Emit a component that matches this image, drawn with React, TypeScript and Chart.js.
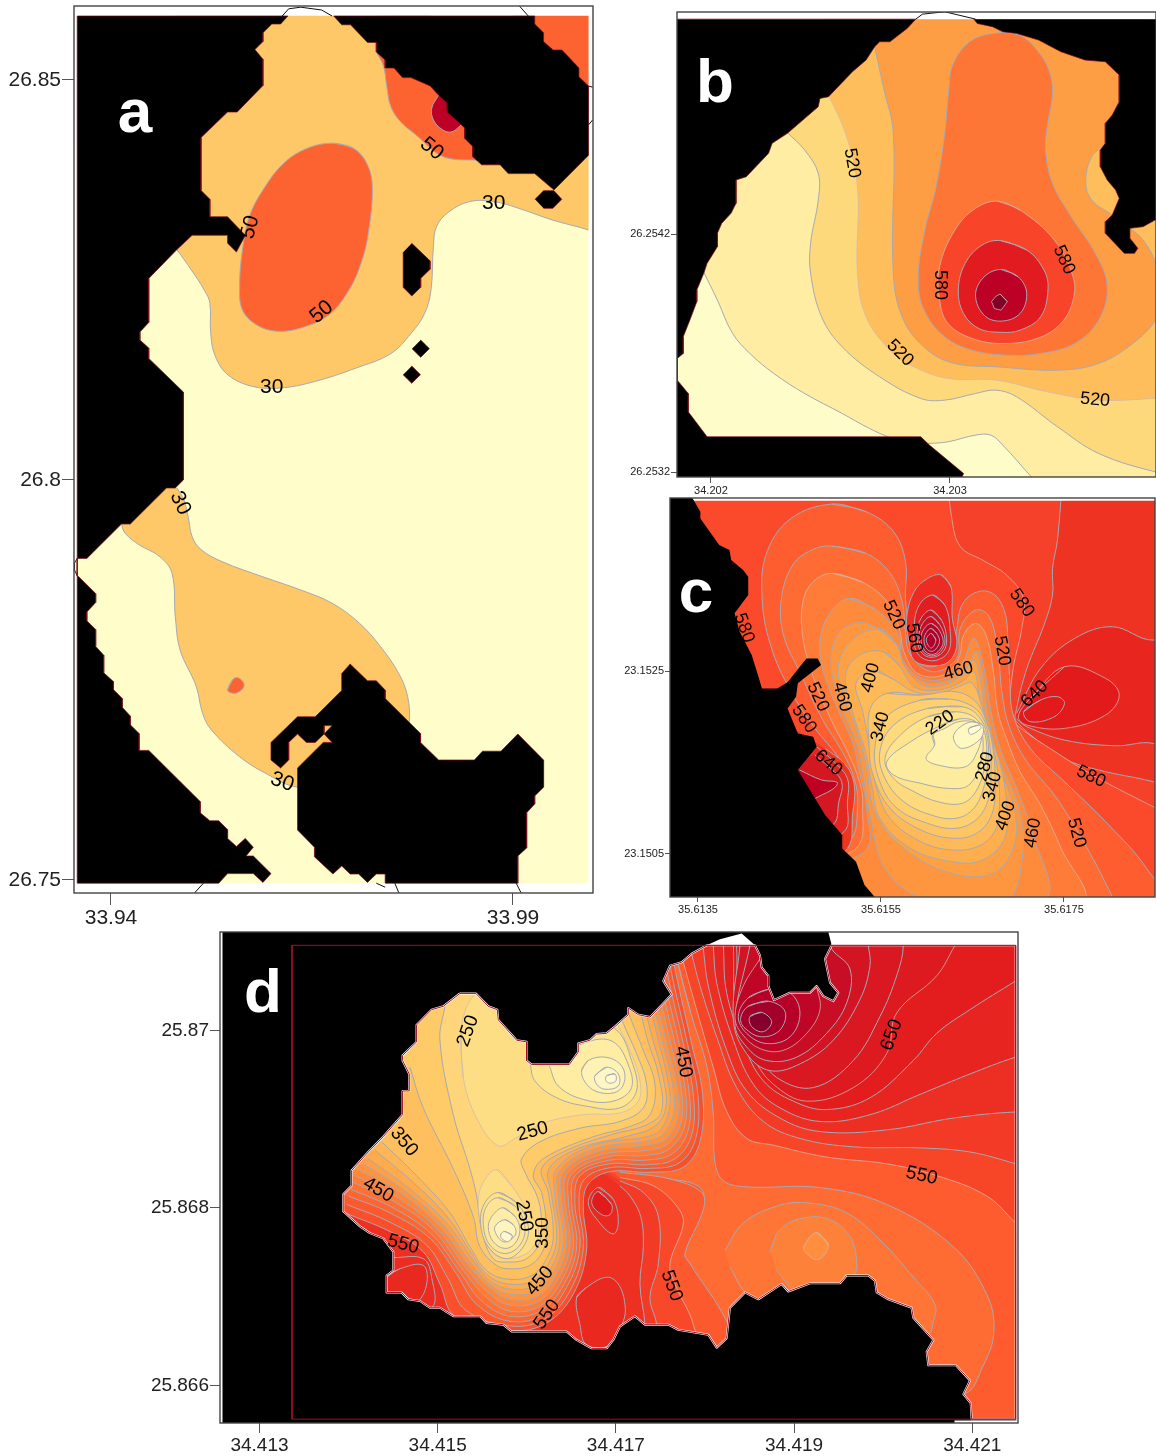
import { useEffect, useRef } from "react";
import { Chart, registerables } from "chart.js";

Chart.register(...registerables);

type Pts = number[][];
type Layer = { pts: Pts; fill?: string; line?: string; width?: number; curve?: boolean };

// Map coordinates below are offsets from each panel's origin, in that panel's map unit.
const GREY = "#A8A9B2";
const FAINT = "rgba(205,185,175,0.75)";
const EDGE = "#7A0A1A";
const ring = (p: Pts): Pts => [...p, p[0], p[1]];

/* ---------- panel a (unit 0.001 deg from 33.94 E, 26.75 N) ---------- */
const aXTickLabels = ["33.94", "33.99"];
const aYTickLabels = ["26.75", "26.8", "26.85"];
const aContourLabels: [string, number, number, number][] = [
  ["50", 39.9, 91.4, 40], ["50", 17.3, 81.6, -75], ["50", 26.2, 71, -40], ["30", 47.6, 84.6, 0],
  ["30", 20, 61.6, 0], ["30", 8.6, 47.1, 65], ["30", 21.3, 12.25, 20],
];
const aWater: Pts = [[-4.2, -0.42], [59.4, -0.42], [59.4, 108.04], [-4.2, 108.04]];
const a30North: Pts = [[8.2, 78.8], [10, 76.25], [11.6, 73.75], [12.3, 72.1], [12.4, 68.3], [13, 65.4], [14.6, 63.1], [17.6, 61.7], [21.1, 61.5], [25.3, 62.3], [30.5, 64], [34.8, 65.8], [37.3, 68.3], [39, 70.8], [39.8, 73.75], [40.1, 79.2], [40.5, 81.7], [42, 83.5], [44.6, 84.8], [47.6, 84.8], [50.6, 84], [54.9, 82.5], [59.4, 81.25], [64, 79.5], [64, 115], [8, 115]];
const aCornerNE: Pts = [[50, 112], [64, 112], [64, 95], [50, 95]];
const a50East: Pts = [[33, 103.5], [33.9, 101.7], [34.3, 99.2], [34.8, 96.7], [36, 94.8], [38.2, 92.9], [40.3, 91], [42, 90.2], [45, 90], [50, 90], [55, 100], [40, 108], [33, 108]];
const a70East: Pts = [[40.75, 98.1], [39.9, 96.5], [40.1, 95], [41.2, 93.8], [42.3, 93.5], [43.4, 94.25], [45, 96], [43, 98.5]];
const a50Central: Pts = [[27.7, 92.1], [30.1, 91.5], [31.8, 89.6], [32.5, 86.7], [32, 80.8], [31.1, 77.1], [29.6, 73.75], [27.05, 70.6], [23.6, 69], [20.6, 68.6], [18.1, 69.4], [16.35, 71.25], [16, 74.2], [16.35, 78.75], [17.2, 82.9], [18.9, 86.25], [21.5, 89.6], [24.5, 91.5]];
const a30South: Pts = [[8.2, 49], [9.07, 47.5], [9.6, 45.4], [10.1, 42.9], [11.2, 41.3], [13.8, 39.8], [18.9, 37.9], [23.6, 36.25], [27.5, 34.6], [30.9, 32.1], [33.5, 29.2], [35.8, 25.8], [36.9, 22.9], [37.1, 19.8], [36.5, 16.25], [27.9, 12.1], [23.2, 11.6], [19.3, 13.3], [16, 15.4], [12.5, 18.75], [11.4, 20.8], [10.6, 24.2], [8.6, 28.75], [8, 32.9], [7.6, 38.3], [6.1, 40.4], [3.5, 41.9], [1.8, 43.3], [1.3, 44.5], [0, 50], [5, 52]];
const a50Drop: Pts = [[14.5, 23.75], [15.1, 25], [15.7, 25.3], [16.4, 24.8], [16.5, 24.1], [15.7, 23.4], [14.9, 23.4]];
const aBandTop: Pts = [[-10, 108.04], [70, 108.04], [70, 115], [-10, 115]];
const aBandBottom: Pts = [[-10, -5], [70, -5], [70, -0.42], [-10, -0.42]];
const aBandLeft: Pts = [[-10, -5], [-4.2, -5], [-4.2, 115], [-10, 115]];
const aBandRight: Pts = [[59.4, -5], [70, -5], [70, 115], [59.4, 115]];
const aBump: Pts = [[-4.2, 40.2], [-4.55, 39.6], [-4.55, 38.8], [-4.2, 38]];
const aLandWest: Pts = [[-4.2, 108], [22, 108], [21.1, 107], [20, 107], [18.9, 105.9], [18.9, 104.8], [17.9, 103.8], [18.9, 102.6], [18.9, 99.3], [15.7, 96], [14.5, 96], [11.2, 92.8], [11.2, 86.2], [12.3, 85.1], [12.3, 82.9], [14.5, 82.9], [16.7, 80.6], [15.6, 78.5], [14.5, 79.6], [14.5, 80.6], [10.1, 80.6], [8.2, 78.8], [4.7, 75.2], [4.7, 69.7], [3.6, 68.5], [3.6, 67.5], [4.7, 66.5], [4.7, 65.2], [9, 61], [9, 50], [8, 49], [6.9, 49], [2.4, 44.5], [1.3, 44.5], [-3, 40.2], [-4.2, 40.2], [-4.2, 38.1], [-1.9, 35.8], [-1.9, 34.7], [-3, 33.5], [-3, 32.4], [-1.9, 31.3], [-1.9, 29.2], [-0.9, 28.1], [-0.9, 25.9], [0.3, 24.8], [0.3, 23.8], [1.4, 22.7], [1.4, 21.6], [2.4, 20.5], [2.4, 19.4], [3.5, 18.3], [3.5, 16.2], [4.7, 16.2], [11.1, 9.8], [11.1, 8.4], [12.3, 7.4], [13.4, 7.4], [14.5, 6.3], [14.5, 5.2], [15.6, 4.2], [16.7, 5.2], [17.7, 4.1], [16.8, 3], [17.7, 3], [19.9, 0.8], [18.9, -0.3], [17.7, 0.8], [14.5, 0.8], [13.4, -0.4], [-4.2, -0.4], [-4.2, 108]];
const aLandNorth: Pts = [[27.7, 108], [28.7, 106.9], [29.8, 106.9], [31.9, 104.7], [33, 104.7], [33, 103.5], [34.1, 102.5], [34.1, 101.5], [35.2, 101.5], [36.25, 100.3], [37.3, 100.3], [39.7, 99.25], [40.75, 98.1], [41.8, 97.1], [41.8, 96], [44, 94], [44, 92.7], [45, 91.7], [45, 90.4], [46.1, 89.4], [48.4, 89.4], [49.4, 88.3], [52.7, 88.3], [55.1, 86.25], [59.4, 90.6], [59.4, 99.25], [58.2, 100.4], [58.2, 101.5], [56.1, 103.75], [55, 103.75], [53.8, 104.8], [53.8, 105.9], [52.7, 107], [52.7, 108], [27.7, 108]];
const aLandSouth: Pts = [[29.75, 27], [31.9, 24.9], [33, 24.9], [34.1, 23.75], [34.1, 22.7], [38.5, 18.3], [38.5, 17.2], [40.75, 15], [45.2, 15], [46.2, 16.1], [48.5, 16.1], [50.6, 18.25], [53.8, 15], [53.8, 11.6], [52.7, 10.5], [52.7, 9.5], [51.7, 8.4], [51.7, 4], [50.6, 3], [50.6, -0.4], [34.1, -0.4], [34.1, 0.75], [33, 0.75], [31.9, -0.3], [30.8, 0.75], [29.75, 0.75], [28.7, 1.75], [27.6, 0.75], [25.3, 2.9], [25.3, 4.1], [23.2, 6.25], [23.2, 14], [26.4, 17.2], [27.5, 17.2], [26.5, 18.25], [27.5, 19.3], [26.5, 19.3], [26.5, 18.25], [25.4, 17.2], [24.3, 17.2], [23.2, 18.25], [22.1, 17.2], [22.1, 15], [21.1, 14], [19.9, 15], [19.9, 17.2], [23.2, 20.4], [25.4, 20.4], [28.7, 23.7], [28.7, 25.8], [29.75, 27]];
const aIslandNE: Pts = [[52.74, 85.08], [53.8, 86.17], [55.09, 86.17], [56.07, 85.08], [54.96, 83.96], [53.8, 83.96]];
const aIslandMid: Pts = [[37.41, 79.58], [39.68, 77.4], [39.68, 76.33], [38.52, 75.2], [38.52, 74.08], [37.41, 73], [36.34, 74.08], [36.34, 78.46]];
const aRockOne: Pts = [[38.52, 67.5], [39.6, 66.42], [38.52, 65.34], [37.44, 66.42]];
const aRockTwo: Pts = [[37.41, 64.25], [38.49, 63.17], [37.41, 62.09], [36.33, 63.17]];
const aCoastTop: Pts = [[21.3, 108], [22.1, 108.9], [23.6, 109.1], [26.2, 108.75], [27.5, 108]];
const aCoastNE: Pts = [[50.8, 109.25], [51.9, 108]];
const aCoastE1: Pts = [[59.4, 99.25], [59.9, 99.1]];
const aCoastE2: Pts = [[59.4, 94.4], [59.9, 95]];
const aCoastS1: Pts = [[10.4, -1.6], [11.5, -0.4]];
const aCoastS2: Pts = [[33, -0.4], [34.1, -0.9]];
const aCoastS3: Pts = [[35.3, -0.4], [35.8, -1.6]];
const aCoastS4: Pts = [[50.4, -0.4], [51, -1.6]];

const aLayers: Layer[] = [
  { pts: aWater, fill: "#FFFDC9" },
  { pts: a30North, fill: "#FEC767", line: GREY, curve: true },
  { pts: aCornerNE, fill: "#FD6330" },
  { pts: a50East, fill: "#FD6330", line: GREY, curve: true },
  { pts: a70East, fill: "#BD0026", line: GREY, curve: true },
  { pts: ring(a50Central), fill: "#FD6330", line: GREY, curve: true },
  { pts: a30South, fill: "#FEC767", line: GREY, curve: true },
  { pts: ring(a50Drop), fill: "#FD6330", line: GREY, curve: true },
  { pts: aBandTop, fill: "#FFFFFF" }, { pts: aBandBottom, fill: "#FFFFFF" },
  { pts: aBandLeft, fill: "#FFFFFF" }, { pts: aBandRight, fill: "#FFFFFF" },
  { pts: aBump, fill: "#FFFDC9", line: "#222", width: 1 },
  ...[aLandWest, aLandNorth, aLandSouth, aIslandNE, aIslandMid, aRockOne, aRockTwo].map((pts) => ({ pts, fill: "#000", line: EDGE, width: 0.7 })),
  ...[aCoastTop, aCoastNE, aCoastE1, aCoastE2, aCoastS1, aCoastS2, aCoastS3, aCoastS4].map((pts) => ({ pts, line: "#111", width: 1 })),
];

/* ---------- panel b (unit 0.0001 deg from 34.202 E, 26.2532 N) ---------- */
const bXTickLabels = ["34.202", "34.203"];
const bYTickLabels = ["26.2532", "26.2542"];
const bContourLabels: [string, number, number, number][] = [
  ["520", 5.9, 12.98, 80], ["580", 9.58, 7.86, 90], ["580", 14.77, 8.91, 65], ["520", 7.91, 5, 45], ["520", 16.07, 3.03, 5],
];
const bWater: Pts = [[-2, -1], [20, -1], [20, 20], [-2, 20]];
const bLevel1: Pts = [[-0.31, 8.42], [0.27, 7.22], [0.91, 5.82], [1.63, 4.98], [2.63, 4.14], [3.92, 3.3], [5.49, 2.46], [6.63, 1.83], [7.42, 1.48], [8.35, 1.2], [9.07, 1.2], [9.92, 1.27], [11.07, 1.55], [11.71, 1.55], [12.21, 1.13], [13.43, -0.23], [14.07, -0.9], [25, -0.9], [25, 25], [-0.5, 25]];
const bLevel2: Pts = [[3.2, 14.26], [3.92, 13.53], [4.49, 12.55], [4.49, 11.43], [4.17, 9.61], [4.17, 8.35], [4.63, 6.52], [5.49, 5.26], [7.06, 4], [8.78, 3.09], [9.78, 3.02], [11.07, 3.3], [11.93, 3.44], [12.79, 3.16], [14.5, 1.9], [16.22, 0.78], [18.62, 0], [20.5, -0.34], [25, -0.5], [25, 25], [3, 25]];
const bLevel3: Pts = [[4.95, 15.77], [5.63, 14.23], [6.13, 12], [6.13, 8.35], [6.49, 6.52], [7.49, 5.12], [8.49, 4.42], [9.92, 3.93], [11.93, 3.86], [14.07, 3.37], [16.22, 3.02], [18.62, 3.09], [20.5, 3.16], [25, 3], [25, 25], [4.5, 25]];
const bLevel4: Pts = [[6.85, 17.87], [7.21, 16.19], [7.63, 14.23], [7.63, 8.35], [8.06, 6.38], [9.07, 5.12], [10.21, 4.56], [11.93, 4.42], [14.5, 4.28], [16.22, 4.56], [17.65, 5.4], [18.62, 6.38], [19.08, 7.22], [18.62, 8.77], [18.08, 9.75], [17.53, 10.24], [16.79, 10.8], [15.93, 11.43], [15.68, 12.2], [15.93, 13.25], [16.5, 13.81], [17.65, 15.63], [17.65, 25], [6.85, 25]];
const bLevel5: Pts = [[12.21, 18.47], [12.93, 18.36], [13.64, 17.73], [14.14, 16.89], [14.29, 15.91], [14.07, 14.51], [14, 13.53], [14.29, 12.13], [15.07, 10.73], [16.08, 9.19], [16.58, 7.79], [16.22, 6.38], [15.22, 5.4], [13.79, 4.98], [12.36, 4.91], [10.93, 5.12], [9.78, 5.68], [8.92, 6.8], [8.67, 8.07], [8.92, 10.03], [9.42, 11.99], [9.78, 14.23], [9.95, 16.05], [10.14, 17.17], [10.93, 18.15]];
const bLevel6: Pts = [[12, 11.38], [12.93, 11.01], [14.36, 9.75], [15.15, 8.2], [15.15, 7.22], [14.64, 6.24], [13.64, 5.61], [12.21, 5.4], [10.93, 5.61], [9.92, 6.24], [9.57, 7.22], [9.57, 8.63], [10.21, 10.17], [11.07, 11.08]];
const bLevel7: Pts = [[12.14, 9.72], [13.21, 9.33], [13.93, 8.49], [14.1, 7.65], [13.79, 6.52], [12.93, 5.96], [12.14, 5.87], [11.21, 6.03], [10.57, 6.66], [10.35, 7.65], [10.64, 8.77], [11.35, 9.54]];
const bLevel8: Pts = [[12.14, 8.51], [12.86, 8.2], [13.21, 7.5], [12.93, 6.66], [12.14, 6.34], [11.43, 6.59], [11.07, 7.44], [11.43, 8.2]];
const bLevel9: Pts = [[12.1, 7.48], [12.4, 7.16], [12.14, 6.8], [11.86, 6.87], [11.74, 7.16], [11.93, 7.39]];
const bBandTop: Pts = [[-2, 19.03], [20, 19.03], [20, 21], [-2, 21]];
const bLandWest: Pts = [[-1.42, 19.03], [8.57, 19.03], [8.21, 18.64], [7.85, 18.36], [7.49, 18.08], [7.06, 18.08], [6.85, 17.87], [6.49, 17.31], [5.92, 16.82], [4.92, 15.77], [4.56, 15.7], [4.49, 15.35], [3.2, 14.23], [2.56, 13.81], [2.41, 13.39], [1.48, 12.41], [1.05, 12.27], [1.05, 11.29], [0.84, 10.87], [0.45, 10.45], [0.27, 10.03], [0.27, 9.47], [-0.16, 8.77], [-0.3, 8.35], [-0.59, 7.65], [-0.59, 7.16], [-0.88, 6.39], [-1.16, 5.68], [-1.16, 4.98], [-1.41, 4.77], [-1.41, 3.86], [-0.95, 3.3], [-0.95, 2.53], [-0.16, 1.48], [8.78, 1.48], [9.14, 1.13], [10.57, -0.06], [10.5, -0.23], [-1.42, -0.23], [-1.42, 19.03]];
const bLandEast: Pts = [[11, 19.03], [11.14, 18.85], [11.78, 18.71], [12.21, 18.5], [12.79, 18.43], [13.71, 18.15], [14.64, 17.66], [15.65, 17.31], [16.5, 17.24], [17.08, 16.68], [17.08, 15.56], [16.79, 15], [16.5, 14.65], [16.5, 13.81], [16.29, 13.53], [16.29, 12.83], [16.58, 12.27], [16.93, 11.85], [17.08, 11.5], [16.79, 10.8], [16.5, 10.52], [16.5, 10.03], [17.29, 9.19], [17.72, 9.19], [17.86, 9.4], [17.53, 9.82], [17.53, 10.24], [18.08, 10.31], [18.58, 10.59], [19, 10.6], [19, 19.03]];
const bCoastTop: Pts = [[8.57, 19.03], [8.85, 19.24], [9.78, 19.34], [11.07, 19.03]];

const bLayers: Layer[] = [
  { pts: bWater, fill: "#FEFCC9" },
  { pts: bLevel1, fill: "#FEEDA3", line: GREY, curve: true },
  { pts: bLevel2, fill: "#FED97C", line: GREY, curve: true },
  { pts: bLevel3, fill: "#FEBE5C", line: FAINT, curve: true },
  { pts: bLevel4, fill: "#FD9E45", line: GREY, curve: true },
  { pts: ring(bLevel5), fill: "#FD7635", line: GREY, curve: true },
  { pts: ring(bLevel6), fill: "#F8452A", line: FAINT, curve: true },
  { pts: ring(bLevel7), fill: "#E11B20", line: GREY, curve: true },
  { pts: ring(bLevel8), fill: "#BD0026", line: GREY, curve: true },
  { pts: ring(bLevel9), fill: "#800026", line: FAINT },
  { pts: bBandTop, fill: "#FFFFFF" },
  { pts: bLandWest, fill: "#000", line: EDGE, width: 0.7 },
  { pts: bLandEast, fill: "#000", line: EDGE, width: 0.7 },
  { pts: bCoastTop, line: "#111", width: 1 },
];

/* ---------- panel c (unit 0.0001 deg from 35.6135 E, 23.1505 N) ---------- */
const cXTickLabels = ["35.6135", "35.6155", "35.6175"];
const cYTickLabels = ["23.1505", "23.1525"];
const cContourLabels: [string, number, number, number][] = [
  ["580", 5.03, 24.7, 70], ["520", 21.37, 26.12, 65], ["560", 23.6, 23.6, 80], ["580", 35.38, 27.43, 55], ["520", 33.22, 22.19, 80],
  ["460", 28.47, 20, -15], ["400", 18.86, 19.27, -75], ["460", 15.74, 17.16, 75], ["520", 13.11, 17.16, 65], ["640", 36.8, 17.49, -45],
  ["580", 11.58, 14.75, 55], ["340", 19.95, 13.91, -75], ["220", 26.45, 14.35, -35], ["280", 31.37, 9.54, -75], ["640", 14.26, 9.95, 40],
  ["340", 32.21, 7.36, -75], ["580", 42.95, 8.45, 25], ["400", 33.62, 4.19, -70], ["460", 36.61, 2.3, -80], ["520", 41.36, 2.3, 75],
];
const cBase: Pts = [[-5, -6], [55, -6], [55, 45], [-5, 45]];
const cOuter0: Pts = [[40.1, 45], [39.31, 34.49], [38.75, 31.2], [38.75, 28.3], [37.82, 25.02], [35.95, 20.29], [34.83, 15.91], [34.83, 14.46], [40.06, 10.45], [43.8, 9.18], [49.74, 7.9], [56, 6], [56, -10], [-10, -10], [-10, 45]];
const cOuter1: Pts = [[26.8, 45], [27.92, 35.59], [28.85, 33.4], [31.09, 32.13], [33.71, 30.49], [35.58, 27.94], [35.39, 24.66], [34.45, 20.29], [34.08, 15.91], [34.46, 14.46], [39.31, 11], [43.8, 8.26], [49.74, 5.17], [56, 2], [56, -10], [-10, -10], [-10, 45]];
const cLobe2: Pts = [[14.65, 38.25], [18.39, 37.41], [21.38, 35.22], [22.68, 31.94], [22.68, 27.94], [23.06, 24.66], [23.62, 21.38], [25.67, 20.47], [27.73, 21.93], [28.29, 24.66], [28.85, 27.21], [30.35, 28.59], [32.21, 28.48], [33.52, 26.48], [33.89, 22.84], [34.08, 18.83], [34.46, 15.19], [36.32, 11.54], [40.06, 7.9], [44.55, 3.53], [49.03, -1.57], [51.27, -6.3], [20, -8], [10, -2], [16.14, 1.34], [16.89, 5.35], [16.52, 7.9], [15.4, 10.45], [12.78, 13.73], [10.17, 17.74], [7.92, 22.84], [6.99, 28.3], [7.55, 33.04], [10.17, 36.68]];
const cLobe3: Pts = [[14.65, 33.66], [18.39, 32.85], [21, 30.67], [22.31, 27.57], [22.68, 24.29], [23.24, 21.74], [25.67, 19.92], [28.29, 21.38], [28.66, 24.66], [30.35, 26.66], [31.84, 25.93], [32.77, 22.11], [33.26, 17.37], [34.08, 13.73], [35.95, 10.09], [38.94, 6.45], [41.93, 1.71], [45.29, -4.67], [46.04, -6.7], [20, -8], [10, -2], [16.52, 1.34], [17.45, 5.35], [17.08, 8.26], [15.77, 11.18], [13.53, 14.82], [11.29, 19.56], [9.34, 23.93], [9.12, 27.94], [10.35, 31.58], [12.41, 33.22]];
const cLobe4: Pts = [[14.65, 30.67], [18.01, 29.69], [20.82, 27.39], [22.05, 24.48], [22.5, 22.11], [24, 19.74], [26.8, 19.56], [28.48, 21.38], [29.04, 23.93], [30.35, 25.2], [31.47, 23.93], [32.29, 19.92], [32.77, 15.55], [33.71, 12.64], [35.2, 9], [37.44, 5.35], [39.69, 0.61], [41.93, -5.2], [20, -8], [10, -2], [17.27, 0.61], [18, 5.35], [17.64, 7.9], [16.33, 11.18], [14.65, 14.46], [12.78, 18.83], [11.47, 23.57], [11.47, 27.57], [12.59, 29.76]];
const cLobe5: Pts = [[16.52, 27.94], [19.51, 26.66], [21.94, 23.93], [22.31, 21.38], [24.37, 19.27], [26.98, 19.19], [28.85, 20.83], [30.16, 23.57], [31.28, 20.29], [32.02, 15.55], [33.15, 11.18], [34.83, 7.17], [36.51, 2.44], [37.82, -5.2], [22, -8], [10, -2], [18.2, 0.25], [18.39, 5.35], [17.64, 8.99], [16.89, 12.27], [15.4, 15.55], [13.72, 19.92], [13.34, 23.2], [14.28, 26.11]];
const cLobe6: Pts = [[18.39, 25.2], [21, 23.93], [22.2, 21], [24.37, 18.9], [26.98, 18.83], [29.22, 20.1], [30.35, 22.11], [31.09, 19.56], [31.65, 15.55], [32.59, 11.18], [35.2, 4.62], [35.39, -0.84], [33.71, -5], [25.1, -5], [20.63, -1.94], [18.95, 3.53], [18, 8.99], [17.27, 12.27], [15.77, 15.91], [14.58, 20.29], [15.02, 23.57], [16.52, 25.02]];
const cCore1: Pts = [[19.88, 24.48], [21.75, 22.84], [22.5, 20.65], [24.37, 18.54], [26.61, 18.39], [28.85, 19.56], [30.16, 21.2], [30.91, 18.83], [31.47, 14.46], [32.59, 10.45], [34.64, 4.62], [34.46, 0.61], [32.21, -2.12], [27.73, -2.12], [22.5, 0.61], [19.32, 4.62], [18.39, 9.72], [17.27, 13.73], [15.77, 17.74], [15.4, 21], [17.27, 23.75]];
const cCore2: Pts = [[20.25, 22.11], [21.94, 20.65], [23.62, 18.28], [26.23, 17.92], [28.85, 18.83], [30.16, 19.92], [30.72, 17.37], [31.65, 13.73], [32.96, 10.09], [33.71, 5.71], [33.52, 1.71], [31.09, -0.66], [27.73, -0.84], [23.24, 0.61], [19.88, 3.89], [19.06, 7.17], [18.31, 11.18], [16.89, 15.55], [16.14, 19.56], [17.64, 21.74]];
const cCore3: Pts = [[19.13, 20.1], [21.19, 19.19], [23.62, 17.74], [26.23, 17.55], [28.48, 18.28], [29.97, 18.65], [31.09, 15.91], [32.02, 12.64], [32.77, 9], [32.96, 5.35], [32.59, 2.8], [30.91, 0.98], [27.92, 0.43], [24.37, 1.34], [21, 3.89], [19.43, 7.54], [18.76, 11.54], [18.01, 15.55], [17.27, 18.65]];
const cCore4: Pts = [[20.63, 17.55], [24.37, 17.37], [28.1, 17.74], [30.35, 16.64], [31.65, 14.09], [32.29, 11.18], [32.47, 7.9], [32.21, 4.62], [30.72, 2.44], [28.1, 1.71], [24.37, 2.62], [21, 5], [19.13, 8.63], [18.69, 12.27], [18.84, 15.91]];
const cCore5: Pts = [[24.37, 16.83], [27.36, 16.94], [29.6, 16.35], [31.09, 15], [31.84, 12.27], [32.02, 8.63], [31.65, 5.71], [30.35, 3.71], [28.1, 2.8], [25.1, 3.35], [21.75, 5], [19.88, 7.9], [19.32, 11.54], [20.63, 15]];
const cCore6: Pts = [[25.1, 15.91], [28.85, 16.1], [30.72, 15], [31.65, 12.64], [31.65, 9.72], [31.09, 6.81], [29.97, 4.8], [28.1, 3.89], [25.49, 4.26], [22.5, 5.71], [20.44, 8.26], [19.88, 11.18], [21.38, 14.09]];
const cCore7: Pts = [[25.1, 15], [28.1, 15.55], [30.35, 14.82], [31.47, 12.64], [31.28, 9.36], [30.35, 6.81], [28.85, 5.53], [26.23, 5.71], [23.62, 6.81], [21.38, 8.26], [20.44, 10.45], [22.12, 13]];
const cCore8: Pts = [[26.23, 13.91], [28.48, 14.75], [30.35, 14.46], [31.09, 13], [30.91, 10.09], [29.6, 7.54], [27.36, 7.17], [24.37, 7.72], [21.38, 8.63], [20.63, 10.09], [23.24, 12.27]];
const cCore9: Pts = [[25.67, 13], [25.86, 11.91], [24.93, 10.45], [26.23, 9.72], [29.22, 9.54], [30.53, 11.18], [31, 13.36], [30.35, 14.35], [28.48, 14.46], [26.98, 13.73]];
const cCore10: Pts = [[29.97, 14.46], [31.09, 14.09], [30.91, 12.64], [28.85, 11.54], [27.92, 12.64], [28.48, 13.73]];
const cCore11: Pts = [[29.6, 13.73], [30.72, 14.09], [30.91, 13.73], [29.79, 13.07]];
const cNorth1: Pts = [[26.61, 30.49], [27.65, 29.21], [27.8, 25.75], [28.29, 22.84], [27.36, 21], [25.49, 20.58], [23.62, 21.2], [23.06, 23.2], [22.8, 25.75], [23.62, 28.67], [25.11, 30.12]];
const cNorth2: Pts = [[25.67, 28.3], [26.98, 27.21], [27.54, 24.66], [27.36, 22.11], [25.67, 21.12], [23.99, 21.93], [23.62, 24.66], [24.18, 27.21]];
const cNorth3: Pts = [[25.49, 26.66], [26.61, 25.57], [27.17, 23.57], [26.8, 22.11], [25.49, 21.49], [24.37, 22.11], [23.92, 23.93], [24.37, 25.75]];
const cNorth3b: Pts = [[25.49, 25.95], [26.4, 25.1], [27, 23.4], [26.5, 22.1], [25.49, 21.65], [24.55, 22.2], [24.15, 23.75], [24.55, 25.2]];
const cNorth4: Pts = [[25.49, 25.2], [26.23, 24.66], [26.8, 23.2], [26.23, 22.11], [25.49, 21.82], [24.74, 22.29], [24.37, 23.56], [24.74, 24.66]];
const cNorth4b: Pts = [[25.49, 24.65], [26.1, 24.1], [26.4, 23.25], [26, 22.4], [25.49, 22.15], [24.95, 22.5], [24.7, 23.45], [24.95, 24.2]];
const cNorth5: Pts = [[25.49, 24.11], [26, 23.4], [25.49, 22.5], [24.95, 23.4]];
const cEast1: Pts = [[34.83, 15.37], [37.45, 20.29], [41.18, 23.57], [45.29, 24.84], [49.74, 23.38], [55, 25], [55, 10], [49.74, 12.09], [45.67, 11.83], [40.06, 12.45], [35.95, 13.91], [34.83, 14.75]];
const cEast2: Pts = [[36.32, 17], [40.06, 20.47], [44.55, 19.19], [46.04, 17.37], [44.55, 15.19], [40.06, 13.73], [35.95, 14.09], [35.02, 15]];
const cEast3: Pts = [[35.6, 15.55], [37.44, 16.83], [39.31, 17.19], [40.06, 16.46], [38.94, 15], [36.32, 14.46]];
const cWest0: Pts = [[13.9, 11.54], [16.15, 9.72], [17.08, 7.54], [16.89, 4.26], [16.33, 0.61], [12, -2], [5, 10], [10, 14]];
const cWest1: Pts = [[12.97, 11.73], [14.84, 10.09], [16.33, 8.26], [16.33, 5.71], [15.96, 2.44], [10, 0], [8, 8]];
const cWest2: Pts = [[12.78, 10.81], [14.28, 9.54], [15.7, 7.9], [15.4, 5.71], [14.65, 3.16], [8, 2], [8, 9]];
const cWest3: Pts = [[11.1, 9.18], [13.53, 8.08], [15.21, 7.83], [14.84, 7.17], [13.15, 6.26], [9, 4], [8, 8]];
const cBandTop: Pts = [[-5, 38.61], [55, 38.61], [55, 45], [-5, 45]];
const cLand: Pts = [[-3.1, 39], [-0.67, 39], [0.26, 37.41], [0.26, 36.68], [2.32, 33.77], [3.44, 33.22], [3.63, 32.13], [4.93, 31.03], [5.49, 30.3], [5.49, 28.3], [4, 26.3], [4.56, 24.29], [5.87, 21.74], [6.61, 19.38], [6.99, 18.1], [8.67, 18.1], [9.79, 18.76], [11.85, 21.38], [13.08, 21.38], [13.45, 20.65], [10.91, 18.65], [10.72, 17.19], [9.79, 15.91], [10.91, 13.18], [12.59, 12.82], [12.97, 11.73], [10.91, 9.18], [13.9, 4.26], [15.77, 2.07], [15.77, 0.61], [17.27, -0.84], [18.2, -3.39], [19.32, -4.7], [-3.1, -4.7]];

const cLayers: Layer[] = [
  { pts: cBase, fill: "#EE3322" },
  { pts: cOuter0, fill: "#F5402A", line: GREY, curve: true },
  { pts: cOuter1, fill: "#FA4A2B", line: FAINT, curve: true },
  { pts: ring(cLobe2), fill: "#FE5E2F", line: GREY, curve: true },
  { pts: ring(cLobe3), fill: "#FE6C33", line: GREY, curve: true },
  { pts: ring(cLobe4), fill: "#FE7B38", line: FAINT, curve: true },
  { pts: ring(cLobe5), fill: "#FE8A3C", line: GREY, curve: true },
  { pts: ring(cLobe6), fill: "#FE963F", line: GREY, curve: true },
  { pts: ring(cCore1), fill: "#FEA144", line: GREY, curve: true },
  { pts: ring(cCore2), fill: "#FEAE4C", line: GREY, curve: true },
  { pts: ring(cCore3), fill: "#FEBA58", line: GREY, curve: true },
  { pts: ring(cCore4), fill: "#FEC564", line: GREY, curve: true },
  { pts: ring(cCore5), fill: "#FED070", line: GREY, curve: true },
  { pts: ring(cCore6), fill: "#FEDA7C", line: GREY, curve: true },
  { pts: ring(cCore7), fill: "#FEE48C", line: GREY, curve: true },
  { pts: ring(cCore8), fill: "#FEEC9E", line: GREY, curve: true },
  { pts: ring(cCore9), fill: "#FEF3B0", line: GREY, curve: true },
  { pts: ring(cCore10), fill: "#FFF8C0", line: GREY, curve: true },
  { pts: ring(cCore11), fill: "#FFFBD2", line: GREY, curve: true },
  { pts: ring(cNorth1), fill: "#EC2C22", line: GREY, curve: true },
  { pts: ring(cNorth2), fill: "#E21D20", line: GREY, curve: true },
  { pts: ring(cNorth3), fill: "#D21222", line: GREY, curve: true },
  { pts: ring(cNorth3b), fill: "#C80C24", line: GREY, curve: true },
  { pts: ring(cNorth4), fill: "#BD0026", line: GREY, curve: true },
  { pts: ring(cNorth4b), fill: "#B60028", line: GREY, curve: true },
  { pts: ring(cNorth5), fill: "#B0002A", line: GREY, curve: true },
  { pts: cEast1, fill: "#E8261F", line: GREY, curve: true },
  { pts: ring(cEast2), fill: "#E31A1C", line: FAINT, curve: true },
  { pts: ring(cEast3), fill: "#E31A1C", line: GREY, curve: true },
  { pts: cWest0, fill: "#F0351F", line: GREY, curve: true },
  { pts: cWest1, fill: "#E62420", line: GREY, curve: true },
  { pts: cWest2, fill: "#D41822", line: GREY, curve: true },
  { pts: cWest3, fill: "#C00022", line: GREY, curve: true },
  { pts: cBandTop, fill: "#FFFFFF" },
  { pts: cLand, fill: "#000" },
];

/* ---------- panel d (unit 0.0001 deg from 34.413 E, 25.866 N) ---------- */
const dXTickLabels = ["34.413", "34.415", "34.417", "34.419", "34.421"];
const dYTickLabels = ["25.866", "25.868", "25.87"];
const dContourLabels: [string, number, number, number][] = [
  ["250", 23.4, 39.94, -70], ["250", 30.66, 28.61, -15], ["350", 16.22, 27.46, 50], ["450", 13.33, 22.03, 30], ["550", 16.14, 15.9, 15],
  ["250", 29.69, 19.1, 80], ["350", 31.78, 17.18, -90], ["450", 31.48, 11.77, -50], ["550", 32.27, 7.99, -55], ["450", 47.56, 36.45, 80],
  ["650", 70.95, 39.49, -70], ["550", 74.32, 23.64, 12], ["550", 46.26, 11.23, 70],
];
const dBase: Pts = [[-6, -6], [90, -6], [90, 55], [-6, 55]];
const dHighA: Pts = [[47.57, 47.69], [49.06, 42.35], [50.93, 35.86], [52.43, 30.9], [54.68, 27.85], [57.67, 27.08], [63.65, 25.74], [70.39, 24.98], [76, 23.65], [81.61, 21.36], [84.87, 18.3], [87.6, 15.6], [95, 15], [95, 60], [47, 60]];
const dHighB: Pts = [[48.5, 48.65], [49.44, 45.02], [51.31, 39.29], [53.55, 33.57], [56.55, 29.75], [60.66, 27.84], [66.65, 26.89], [74.13, 26.77], [79.74, 26.31], [84.87, 24.98], [95, 22], [95, 60], [48, 60]];
const dHighC: Pts = [[49.81, 49.22], [50.37, 45.02], [52.43, 37.77], [54.68, 33.19], [58.42, 30.13], [62.91, 28.61], [70.39, 28.8], [77.87, 30.13], [84.87, 30.82], [95, 31], [95, 60], [49, 60]];
const dHighD: Pts = [[50.93, 49.6], [51.31, 45.4], [53.18, 38.91], [55.42, 33.95], [58.42, 31.28], [62.91, 29.75], [68.52, 30.51], [74.13, 32.8], [79.74, 35.1], [84.87, 37], [95, 40], [95, 60], [50, 60]];
const dHighE: Pts = [[52.06, 49.6], [52.43, 44.26], [54.3, 38.53], [56.55, 34.33], [59.91, 32.04], [63.65, 31.09], [68.52, 32.42], [73.38, 36.62], [76, 39.68], [79.74, 42.35], [84.87, 45.59], [95, 52], [95, 60], [52, 60]];
const dHighF: Pts = [[53.18, 49.6], [53.55, 41.58], [55.42, 37], [57.67, 33.95], [61.41, 32.04], [66.65, 33.57], [70.39, 37.39], [71.51, 41.97], [76, 46.16], [78.06, 49.6], [79, 51.13], [79, 60], [53, 60]];
const dHighG: Pts = [[53.55, 49.6], [53.93, 40.82], [55.8, 37.77], [58.04, 34.71], [62.16, 33.57], [66.65, 36.62], [69.64, 41.58], [71.51, 46.16], [72.26, 49.6], [72, 60], [53.5, 60]];
const dHighH: Pts = [[53.93, 49.6], [53.18, 41.2], [54.68, 37.39], [57.29, 35.48], [60.66, 36.24], [64.4, 38.91], [67.39, 43.49], [68.52, 47.31], [68.33, 49.6], [68.14, 51.5], [54, 52]];
const dPeak1: Pts = [[55.05, 49.6], [53.37, 40.82], [54.68, 38.15], [56.92, 36.62], [60.29, 37], [63.65, 39.68], [65.9, 43.11], [66.27, 46.93], [64.03, 49.6], [64, 55], [55, 55]];
const dPeak2: Pts = [[56.17, 48.07], [54.3, 45.02], [53.37, 41.58], [54.11, 39.68], [56.17, 37.96], [58.79, 37.77], [61.41, 39.68], [62.91, 42.35], [62.53, 45.02], [62, 50], [57, 50]];
const dPeak3: Pts = [[57.11, 44.64], [54.86, 43.68], [53.74, 41.58], [54.68, 39.68], [56.92, 38.53], [59.54, 39.29], [60.66, 41.97], [59.54, 44.26]];
const dPeak4: Pts = [[57.11, 43.3], [54.86, 42.73], [54, 41.39], [54.49, 40.25], [56.36, 39.29], [58.42, 40.06], [58.98, 42.16]];
const dPeak5: Pts = [[56.36, 42.04], [55.05, 41.58], [55.24, 40.44], [56.55, 39.87], [57.48, 41]];
const dSaddle: Pts = [[47, 47.5], [48.4, 42], [50.2, 36], [50.93, 30.52], [51.12, 25.17], [52.06, 23.07], [54.68, 22.38], [62.91, 22.3], [70.39, 20.4], [77.87, 15.63], [81.61, 10.29], [82.43, 6.09], [81.24, 2.27], [79, -0.97], [70, 0], [52.43, 6.85], [48.32, 13.72], [47.75, 14.87], [49.81, 20.21], [49.44, 22.31], [46.07, 23.27], [40, 24], [40, 35], [42, 52], [46.5, 51]];
const dHollow1: Pts = [[52.24, 15.25], [54.3, 18.3], [58.04, 20.21], [61.41, 20.59], [65.9, 19.45], [70.01, 16.01], [73.38, 12.2], [75.81, 9.14], [75.63, 7.23], [74.88, 5.7], [60, 5], [54.49, 10.48], [52.8, 13.34]];
const dHollow2: Pts = [[57.29, 15.06], [58.42, 17.54], [61.03, 18.87], [64.03, 18.68], [66.27, 16.77], [67.02, 14.1], [66.65, 12.2], [62, 8], [59.72, 10.86], [58.04, 12.96]];
const dHollow3: Pts = [[62.53, 17.23], [63.84, 15.82], [62.72, 14.18], [61.22, 15.06], [61.15, 15.82]];
const dRed0: Pts = [[40.46, 24.03], [46.07, 23.27], [49.63, 21.74], [49.81, 19.83], [47.75, 14.87], [48.32, 13.72], [52.43, 7.23], [53.93, 2.27], [0, 0], [0, 27], [36, 27], [38.5, 25]];
const dRed1: Pts = [[40.46, 23.45], [44.2, 22.5], [46.82, 20.21], [47.57, 18.3], [46.07, 13.72], [46.63, 11.43], [48.69, 6.85], [49.06, 2.27], [0, 0], [0, 27], [36, 27], [38.7, 24.5]];
const dRed2: Pts = [[40.46, 23.07], [43.08, 21.74], [44.76, 19.06], [44.76, 13.72], [43.83, 9.9], [44.57, 6.85], [44.57, 2.27], [0, 0], [0, 27], [36, 27], [38.7, 24.2]];
const dRed3: Pts = [[40.46, 22.5], [41.58, 21.36], [42.78, 19.06], [43.08, 15.63], [42.7, 11.43], [43.27, 6.85], [43.27, 2.27], [0, 0], [0, 27], [36, 27], [38.7, 23.8]];
const dSpotSW2: Pts = [[15.02, 14.42], [18.38, 14.29], [19.32, 12.19], [19.32, 8.76], [14, 8], [13, 12]];
const dSpotSW1: Pts = [[14.27, 12.18], [15.76, 13.15], [18.38, 13.53], [18.76, 11.43], [17.63, 9.33], [16.14, 9.52], [14.27, 10.29]];
const dSpotS: Pts = [[35.59, 9.9], [36.71, 11.05], [38.96, 12.2], [40.27, 11.43], [41.02, 9.14], [40.83, 7.23], [39.33, 4.56], [36.71, 4.56], [35.97, 6.85]];
const dSpotC1: Pts = [[38.02, 22.31], [39.71, 20.97], [40.27, 18.3], [39.71, 17.08], [38.21, 18.3], [36.9, 20.59]];
const dSpotC2: Pts = [[38.02, 21.85], [39.52, 20.4], [39.33, 19.25], [38.4, 19.25], [37.28, 20.59]];
const dLowTop1: Pts = [[40, 55], [5, 55]];
const dLow0: Pts = [[9.59, 19.45], [14.64, 17.35], [18.38, 15.06], [20.25, 11.43], [21.94, 7.8], [28.3, 6.2], [32.22, 7.04], [35.22, 10.3], [36.71, 15.25], [36.34, 20.21], [36.9, 22.69], [39.33, 24.1], [43.82, 24.03], [47.56, 24.6], [49.43, 27.46], [49.73, 32.8], [48.5, 38.53], [46.63, 46.93], [46.25, 49.6], [40, 55], [5, 55], [5, 20]];
const dLow0b: Pts = [[9.78, 20.4], [14.64, 18.4], [18.75, 15.82], [21.18, 12], [23.15, 8.47], [28.2, 6.7], [32.03, 7.52], [34.85, 10.67], [36.34, 15.44], [35.87, 20.4], [36.43, 23.17], [39.33, 24.54], [43.63, 24.45], [47.1, 25.08], [48.96, 27.84], [49.2, 32.8], [48.03, 38.53], [46.16, 46.93], [45.88, 49.6], ...dLowTop1, [5, 21]];
const dLow1: Pts = [[9.97, 21.35], [14.64, 19.45], [19.13, 16.58], [22.12, 12.57], [24.37, 9.14], [28.11, 7.23], [31.85, 8], [34.47, 11.05], [35.97, 15.63], [35.4, 20.59], [35.97, 23.64], [39.33, 24.98], [43.45, 24.87], [46.63, 25.55], [48.5, 28.22], [48.68, 32.8], [47.56, 38.53], [45.69, 46.93], [45.51, 49.6], [40, 55], [5, 55], [5, 21.5]];
const dLow1b: Pts = [[10.25, 22.1], [14.83, 20.1], [19.3, 17.06], [22.5, 12.76], [24.93, 9.52], [28.11, 7.8], [31.66, 8.47], [34.19, 11.43], [35.6, 15.63], [35.03, 20.68], [35.5, 23.73], [39.15, 25.36], [43.45, 25.4], [46.35, 26.12], [48.12, 28.8], [48.2, 33.18], [47.1, 38.53], [45.22, 46.93], [45.13, 49.6], ...dLowTop1, [5, 22]];
const dLow2: Pts = [[10.53, 22.88], [15.02, 20.78], [19.5, 17.54], [22.87, 12.96], [25.49, 9.9], [28.11, 8.38], [31.48, 8.95], [33.91, 11.81], [35.22, 15.63], [34.66, 20.78], [35.03, 23.83], [38.96, 25.74], [43.45, 25.93], [46.07, 26.7], [47.75, 29.37], [47.75, 33.57], [46.63, 38.53], [44.76, 46.93], [44.76, 49.6], [40, 55], [5, 55], [5, 23]];
const dLow2b: Pts = [[10.9, 23.55], [15.39, 21.26], [19.87, 17.73], [23.25, 13.15], [25.77, 10.38], [28.11, 9.05], [31.38, 9.52], [33.63, 12.19], [34.85, 15.8], [34.28, 20.87], [34.56, 23.93], [38.4, 26.03], [43.45, 26.5], [45.88, 27.27], [47.37, 29.94], [47.28, 33.76], [46.16, 38.53], [44.29, 46.93], [44.29, 49.4], ...dLowTop1, [5, 23.8]];
const dLow3: Pts = [[11.27, 24.22], [15.76, 21.74], [20.25, 17.92], [23.62, 13.34], [26.05, 10.86], [28.11, 9.71], [31.29, 10.09], [33.35, 12.57], [34.47, 16], [33.91, 20.97], [34.1, 24.03], [37.84, 26.32], [43.45, 27.08], [45.69, 27.84], [47, 30.51], [46.81, 33.95], [45.69, 38.53], [43.82, 46.93], [43.82, 49.22], [40, 55], [5, 55], [5, 24.5]];
const dLow3b: Pts = [[11.74, 24.9], [16.32, 21.93], [20.62, 18.11], [23.8, 13.72], [25.95, 11.33], [28.11, 10.28], [31.1, 10.66], [33.07, 12.95], [34.1, 16.2], [33.53, 21.16], [33.72, 24.22], [37.65, 26.7], [43.45, 27.55], [45.41, 28.41], [46.53, 31.08], [46.25, 34.52], [45.22, 38.72], [43.35, 46.93], [43.26, 48.8], ...dLowTop1, [5, 25.2]];
const dLow4: Pts = [[12.21, 25.55], [16.89, 22.12], [21, 18.3], [23.99, 14.1], [25.86, 11.81], [28.11, 10.86], [30.91, 11.24], [32.79, 13.34], [33.72, 16.39], [33.16, 21.36], [33.35, 24.41], [37.46, 27.08], [43.45, 28.03], [45.13, 28.99], [46.07, 31.66], [45.69, 35.1], [44.76, 38.91], [42.89, 46.93], [42.7, 48.45], [40, 55], [5, 55], [5, 26]];
const dLow4b: Pts = [[12.96, 26.5], [17.26, 22.88], [21.19, 18.87], [23.8, 14.87], [25.67, 12.38], [27.92, 11.43], [30.72, 11.81], [32.5, 13.81], [33.35, 16.58], [32.78, 21.55], [32.5, 24.41], [35.78, 26.7], [41.39, 28.12], [44.29, 29.18], [45.6, 31.28], [45.22, 35.1], [44.1, 39.1], [42.42, 46.35], [42.23, 47.7], ...dLowTop1, [5, 27]];
const dLow5: Pts = [[13.71, 27.46], [17.63, 23.64], [21.38, 19.45], [23.62, 15.63], [25.49, 12.96], [27.73, 12], [30.54, 12.38], [32.22, 14.29], [32.97, 16.77], [32.41, 21.74], [31.66, 24.41], [34.1, 26.32], [39.33, 28.22], [43.45, 29.37], [45.13, 30.9], [44.76, 35.1], [43.45, 39.29], [41.95, 45.78], [41.76, 46.93], [38, 55], [5, 55], [5, 28]];
const dLow6: Pts = [[16.89, 35.86], [18.38, 31.28], [21.75, 24.41], [23.99, 19.06], [24.74, 15.63], [26.61, 13.53], [28.11, 13.15], [30.35, 13.53], [31.85, 15.25], [32.22, 17.54], [31.66, 21.74], [30.73, 23.64], [31.85, 25.55], [37.46, 28.03], [41.58, 29.18], [43.82, 30.51], [44.38, 33.95], [43.07, 37.77], [41.58, 41.58], [40.08, 46.55], [38, 50], [15, 50], [10, 38]];
const dLow7: Pts = [[20.81, 42.73], [20.25, 38.91], [21.75, 30.52], [23.62, 24.41], [24.37, 21.36], [24.93, 17.54], [26.24, 14.29], [28.11, 13.91], [29.98, 14.29], [31.29, 15.82], [31.66, 17.73], [31.29, 20.97], [29.79, 24.03], [29.42, 25.55], [31.48, 27.46], [35.97, 28.99], [40.45, 29.75], [43.07, 31.28], [43.45, 33.95], [42.32, 37.39], [40.83, 40.82], [39.71, 44.26], [38.58, 47.31], [25, 50], [20, 46]];
const dLow8: Pts = [[22.68, 40.44], [22.87, 34.71], [24.37, 30.13], [26.8, 27], [28.67, 27.84], [31.85, 29.56], [36.34, 30.52], [40.45, 30.71], [42.51, 32.04], [42.7, 34.33], [41.58, 37.77], [40.08, 40.82], [37.84, 45.02], [29.98, 47.31], [24.37, 44.26]];
const dLowS: Pts = [[26.61, 24.33], [28.3, 22.5], [29.79, 20.21], [31.29, 17.54], [30.73, 15.63], [29.61, 14.67], [27.73, 14.29], [26.24, 14.87], [25.12, 17.15], [24.55, 20.59], [25.12, 22.88]];
const dBasin0: Pts = [[26.8, 21.74], [28.86, 20.59], [30.17, 17.92], [29.61, 15.63], [27.73, 14.29], [25.68, 15.63], [24.82, 18.3], [25.3, 20.59]];
const dBasin1: Pts = [[26.8, 21.16], [28.67, 20.21], [29.79, 17.92], [29.23, 15.82], [27.55, 14.87], [25.86, 15.82], [25.12, 18.11], [25.49, 20.21]];
const dBasin2: Pts = [[27.36, 20.02], [28.67, 19.06], [29.23, 17.54], [28.67, 16], [27.55, 15.44], [26.24, 16.2], [25.68, 17.92], [26.24, 19.25]];
const dBasin3: Pts = [[27.55, 18.68], [28.48, 18.11], [28.78, 17.15], [28.11, 16.39], [27.36, 16.2], [26.61, 16.97], [26.43, 17.92]];
const dBasin4: Pts = [[27.55, 17.35], [28.37, 16.89], [27.92, 16.2], [27.17, 16.58], [27.1, 17.08]];
const dBasinN1: Pts = [[30.35, 36.43], [30.91, 34.33], [33.35, 32.42], [36.71, 31.47], [40.45, 31.28], [42.32, 33.19], [41.76, 36.62], [40.08, 40.06], [37.46, 40.44], [31.85, 38.91]];
const dBasinN2: Pts = [[32.52, 36.05], [33.53, 33.76], [36.34, 32.23], [39.71, 32.04], [41.76, 33.57], [41.2, 36.62], [39.71, 38.72], [37.46, 38.91], [33.72, 37.39]];
const dBasinN3: Pts = [[36.15, 35.48], [36.9, 36.62], [38.77, 37], [40.45, 36.24], [41.02, 34.71], [40.27, 33.19], [38.21, 33], [36.71, 33.95]];
const dBasinN4: Pts = [[37.65, 34.9], [38.96, 35.86], [40.27, 35.1], [40.27, 33.76], [38.77, 33.38], [37.84, 33.95]];
const dBasinN5: Pts = [[38.96, 34.9], [39.89, 35.1], [40, 34.33], [39.33, 34.06], [38.88, 34.33]];
const dCoast: Pts = [[22.5, 44.18], [24.29, 44.18], [25.68, 42.73], [26.69, 42.35], [26.8, 41.2], [28.86, 38.91], [29.98, 38.72], [29.98, 36.62], [30.54, 36.16], [34.77, 36.16], [35.78, 37.58], [35.78, 38.53], [37.09, 38.91], [37.84, 39.6], [38.96, 39.68], [39.89, 40.44], [41.39, 41.78], [41.39, 42.54], [42.52, 41.78], [43.83, 41.51], [46.26, 44.07], [45.32, 45.59], [46.07, 47.31], [47.38, 47.69], [48.5, 48.65], [50.19, 49.6], [55.61, 49.6], [56.17, 48.46], [56.36, 47.12], [57.11, 46.16], [57.11, 45.02], [57.74, 43.42], [59.54, 44.26], [61.78, 44.26], [62.53, 45.02], [63.28, 43.87], [64.4, 43.3], [64.96, 44.26], [64.03, 45.4], [63.47, 48.07], [64.22, 49.6], [84.87, 49.6], [84.87, -3.8], [79.93, -3.8], [79.82, -2], [79, -0.97], [79.74, 0.56], [78.17, 2.27], [75.07, 2.27], [74.88, 3.8], [75.63, 5.13], [73.38, 7.62], [73.19, 8.76], [70.58, 9.71], [69.27, 10.48], [69.08, 11.81], [68.33, 12.39], [65.9, 12.39], [65.15, 11.51], [61.78, 11.51], [59.35, 10.59], [58.6, 11.43], [55.99, 9.71], [54.49, 10.48], [52.8, 8.76], [52.43, 5.33], [51.31, 4.26], [50.37, 5.71], [47, 6.28], [45.88, 6.85], [43.27, 6.85], [42.14, 7.8], [40.46, 6.66], [39.71, 5.13], [38.96, 4.18], [37.28, 4.18], [35.59, 5.13], [34.47, 6.09], [28.3, 6.09], [27.36, 6.85], [25.49, 7.04], [24.74, 7.81], [21.75, 7.81], [20.25, 8.76], [19.13, 8.76], [18.01, 9.52], [16.7, 9.71], [15.95, 10.48], [14.27, 10.48], [14.27, 12.39], [15.02, 12.96], [15.02, 15.06], [13.89, 16.58], [12.4, 17.16], [11.28, 17.92], [9.4, 19.64], [9.4, 21.55], [10.34, 22.5], [10.34, 24.22], [12.21, 26.32], [13.89, 28.04], [16.06, 30.52], [16.06, 33.19], [16.81, 33.19], [16.81, 35.1], [16.06, 36.62], [16.06, 37.2], [17.63, 38.72], [17.63, 40.63], [19.32, 42.35], [20.63, 42.73], [22.5, 44.18]];
const dSeaOutline: Pts = [[-7, 56], [-7, -8], [92, -8], [92, 56], [-7, 56]];
const dMask: Pts = [...dSeaOutline, ...dCoast];
const dWhiteWedge: Pts = [[50.19, 49.6], [51.68, 50.29], [54.12, 50.94], [55.61, 49.6]];
const dBandTop: Pts = [[64.22, 49.6], [92, 49.6], [92, 56], [63.84, 56], [63.84, 51.1]];
const dBandRight: Pts = [[84.95, -8], [92, -8], [92, 56], [84.95, 56]];
const dBandBottom: Pts = [[78, -3.95], [92, -3.95], [92, -8], [78, -8]];
const dBandLeft: Pts = [[-7, -8], [-4.15, -8], [-4.15, 56], [-7, 56]];
const dRedFrame: Pts = [[3.65, -3.8], [84.87, -3.8], [84.87, 49.6], [3.65, 49.6], [3.65, -3.8]];

const dLayers: Layer[] = [
  { pts: dBase, fill: "#FE5C2F" },
  { pts: dHighA, fill: "#F74528", line: FAINT, curve: true },
  { pts: dHighB, fill: "#F23A26", line: GREY, curve: true },
  { pts: dHighC, fill: "#EC2F22", line: GREY, curve: true },
  { pts: dHighD, fill: "#E7241F", line: GREY, curve: true },
  { pts: dHighE, fill: "#E31C1E", line: GREY, curve: true },
  { pts: dHighF, fill: "#DD1A1F", line: FAINT, curve: true },
  { pts: dHighG, fill: "#D91822", line: GREY, curve: true },
  { pts: dHighH, fill: "#D31422", line: GREY, curve: true },
  { pts: dPeak1, fill: "#C80E24", line: GREY, curve: true },
  { pts: dPeak2, fill: "#BF0627", line: FAINT, curve: true },
  { pts: ring(dPeak3), fill: "#B70028", line: GREY, curve: true },
  { pts: ring(dPeak4), fill: "#A50029", line: GREY, curve: true },
  { pts: ring(dPeak5), fill: "#85002A", line: GREY, curve: true },
  { pts: ring(dSaddle), fill: "#FE6C33", line: GREY, curve: true },
  { pts: dHollow1, fill: "#FE7535", line: GREY, curve: true },
  { pts: dHollow2, fill: "#FE8139", line: GREY, curve: true },
  { pts: ring(dHollow3), fill: "#FF8E3E", line: FAINT, curve: true },
  { pts: dRed0, fill: "#FC5A2E", line: GREY, curve: true },
  { pts: dRed1, fill: "#F8482A", line: FAINT, curve: true },
  { pts: dRed2, fill: "#F23A26", line: GREY, curve: true },
  { pts: dRed3, fill: "#EE3023", line: GREY, curve: true },
  { pts: dSpotSW2, fill: "#EC2C22", line: GREY, curve: true },
  { pts: ring(dSpotSW1), fill: "#E9281F", line: GREY, curve: true },
  { pts: ring(dSpotS), fill: "#E9281F", line: GREY, curve: true },
  { pts: ring(dSpotC1), fill: "#E9281F", line: GREY, curve: true },
  { pts: ring(dSpotC2), fill: "#E31A1C", line: GREY, curve: true },
  { pts: dLow0, fill: "#FB4F2B", line: GREY, curve: true },
  { pts: dLow0b, fill: "#FC5A2E", line: GREY, curve: true },
  { pts: dLow1, fill: "#FD6531", line: GREY, curve: true },
  { pts: dLow1b, fill: "#FE7034", line: GREY, curve: true },
  { pts: dLow2, fill: "#FE7B38", line: GREY, curve: true },
  { pts: dLow2b, fill: "#FE873C", line: GREY, curve: true },
  { pts: dLow3, fill: "#FE9440", line: GREY, curve: true },
  { pts: dLow3b, fill: "#FEA047", line: GREY, curve: true },
  { pts: dLow4, fill: "#FEAB4E", line: GREY, curve: true },
  { pts: dLow4b, fill: "#FEB656", line: GREY, curve: true },
  { pts: dLow5, fill: "#FEC05F", line: GREY, curve: true },
  { pts: dLow6, fill: "#FECB68", line: GREY, curve: true },
  { pts: dLow7, fill: "#FED57A", line: GREY, curve: true },
  { pts: ring(dLow8), fill: "#FEDE84", line: FAINT, curve: true },
  { pts: ring(dLowS), fill: "#FEDE84", line: FAINT, curve: true },
  { pts: ring(dBasin0), fill: "#FEE18A", line: GREY, curve: true },
  { pts: ring(dBasin1), fill: "#FEE594", line: GREY, curve: true },
  { pts: ring(dBasin2), fill: "#FEEDA8", line: GREY, curve: true },
  { pts: ring(dBasin3), fill: "#FEF4BE", line: GREY, curve: true },
  { pts: ring(dBasin4), fill: "#FFF8CC", line: GREY, curve: true },
  { pts: dBasinN1, fill: "#FEE68F", line: GREY, curve: true },
  { pts: dBasinN2, fill: "#FEEDA2", line: GREY, curve: true },
  { pts: ring(dBasinN3), fill: "#FEF2B5", line: GREY, curve: true },
  { pts: ring(dBasinN4), fill: "#FEF6C6", line: GREY, curve: true },
  { pts: ring(dBasinN5), fill: "#FFFACF", line: GREY, curve: true },
  { pts: dWhiteWedge, fill: "#FFFFFF" },
  { pts: dMask, fill: "#000" },
  { pts: dCoast, line: "#FFFFFF", width: 2 },
  { pts: dCoast, line: "#A0102A", width: 1 },
  { pts: dWhiteWedge, fill: "#FFFFFF" },
  { pts: dBandTop, fill: "#FFFFFF" },
  { pts: dBandRight, fill: "#FFFFFF" },
  { pts: dBandBottom, fill: "#FFFFFF" },
  { pts: dBandLeft, fill: "#FFFFFF" },
  { pts: dRedFrame, line: "#A0102A", width: 1 },
];

/* ---------- panels ---------- */
type Panel = {
  letter: string; letterAt: number[]; letterFont: number;
  box: number[]; gutter: number[]; origin: number[]; unit: number;
  xRange: number[]; yRange: number[]; xLabels: string[]; yLabels: string[];
  tickFont: number; tickLen: number; textFont: number;
  texts: [string, number, number, number][]; layers: Layer[];
};
const panels: Panel[] = [
  { letter: "a", letterAt: [3, 95.6], letterFont: 62, box: [74, 6, 593, 893], gutter: [74, 42], origin: [33.94, 26.75], unit: 0.001, xRange: [-4.6, 59.95], yRange: [-1.625, 109.25], xLabels: aXTickLabels, yLabels: aYTickLabels, tickFont: 21, tickLen: 12, textFont: 21, texts: aContourLabels, layers: aLayers },
  { letter: "b", letterAt: [0.17, 16.26], letterFont: 62, box: [677, 12, 1156, 477], gutter: [57, 20], origin: [34.202, 26.2532], unit: 0.0001, xRange: [-1.42, 18.62], yRange: [-0.21, 19.33], xLabels: bXTickLabels, yLabels: bYTickLabels, tickFont: 11, tickLen: 6, textFont: 18, texts: bContourLabels, layers: bLayers },
  { letter: "c", letterAt: [-0.22, 28.3], letterFont: 62, box: [670, 498, 1155, 897], gutter: [50, 20], origin: [35.6135, 23.1505], unit: 0.0001, xRange: [-3.06, 49.95], yRange: [-4.7, 38.91], xLabels: cXTickLabels, yLabels: cYTickLabels, tickFont: 11, tickLen: 5, textFont: 18, texts: cContourLabels, layers: cLayers },
  { letter: "d", letterAt: [0.39, 44], letterFont: 62, box: [220, 932, 1018, 1423], gutter: [70, 33], origin: [34.413, 25.866], unit: 0.0001, xRange: [-4.43, 85.13], yRange: [-4.23, 51.1], xLabels: dXTickLabels, yLabels: dYTickLabels, tickFont: 19, tickLen: 10, textFont: 19, texts: dContourLabels, layers: dLayers },
];
const FONT = '"Liberation Sans", Arial, sans-serif';

function PanelChart({ panel }: { panel: Panel }) {
  const ref = useRef<HTMLCanvasElement | null>(null);
  const [l, t, r, b] = panel.box;
  const [gl, gb] = panel.gutter;
  const padT = panel.tickFont;
  const padR = r >= 1156 ? 0 : 2;
  useEffect(() => {
    const [x0, y0] = panel.origin;
    const u = panel.unit;
    const toX = (v: number) => x0 + v * u;
    const toY = (v: number) => y0 + v * u;
    const datasets = panel.layers.map((ly) => ({
      data: ly.pts.map(([x, y]) => ({ x: toX(x), y: toY(y) })),
      showLine: true,
      pointRadius: 0,
      pointHitRadius: 0,
      fill: ly.fill ? "shape" : false,
      backgroundColor: ly.fill ?? "transparent",
      borderColor: ly.line ?? "transparent",
      borderWidth: ly.line ? ly.width ?? 1 : 0,
      borderJoinStyle: "round",
      tension: ly.curve ? 0.38 : 0,
      capBezierPoints: false,
    })).reverse();
    const axis = (labels: string[], range: number[], conv: (v: number) => number, isX: boolean) => ({
      type: "linear",
      min: conv(range[0]),
      max: conv(range[1]),
      position: isX ? "bottom" : "left",
      afterBuildTicks: (s: any) => { s.ticks = labels.map((v) => ({ value: Number(v) })); },
      afterFit: (s: any) => { if (isX) s.height = gb; else s.width = gl; },
      grid: { display: true, drawOnChartArea: false, drawTicks: true, tickLength: panel.tickLen, color: "#555", lineWidth: 1 },
      border: { display: false },
      ticks: {
        autoSkip: false, maxRotation: 0, minRotation: 0, padding: 1, color: "#222",
        font: { family: FONT, size: panel.tickFont },
        callback: (_v: number, i: number) => labels[i],
      },
    });
    const overlay = {
      id: "overlay",
      afterDatasetsDraw(chart: any) {
        const { ctx, chartArea: a, scales } = chart;
        ctx.save();
        ctx.beginPath();
        ctx.rect(a.left, a.top, a.right - a.left, a.bottom - a.top);
        ctx.clip();
        ctx.fillStyle = "#000";
        ctx.textAlign = "center";
        ctx.textBaseline = "middle";
        ctx.font = `${panel.textFont}px ${FONT}`;
        for (const [txt, x, y, rot] of panel.texts) {
          ctx.save();
          ctx.translate(scales.x.getPixelForValue(toX(x)), scales.y.getPixelForValue(toY(y)));
          ctx.rotate((rot * Math.PI) / 180);
          ctx.fillText(txt, 0, 0);
          ctx.restore();
        }
        ctx.fillStyle = "#fff";
        ctx.font = `bold ${panel.letterFont}px ${FONT}`;
        ctx.fillText(panel.letter, scales.x.getPixelForValue(toX(panel.letterAt[0])), scales.y.getPixelForValue(toY(panel.letterAt[1])));
        ctx.restore();
        ctx.strokeStyle = "#444";
        ctx.lineWidth = 1.4;
        ctx.strokeRect(a.left, a.top, a.right - a.left, a.bottom - a.top);
      },
    };
    const chart = new Chart(ref.current as HTMLCanvasElement, {
      type: "scatter",
      data: { datasets },
      options: {
        responsive: false,
        animation: false,
        devicePixelRatio: 1,
        events: [],
        layout: { padding: { left: 0, top: padT, right: padR, bottom: 0 } },
        plugins: { legend: { display: false }, tooltip: { enabled: false } },
        scales: {
          x: axis(panel.xLabels, panel.xRange, toX, true),
          y: axis(panel.yLabels, panel.yRange, toY, false),
        },
      },
      plugins: [overlay],
    } as any);
    return () => chart.destroy();
  }, []);
  return (
    <canvas
      ref={ref}
      width={gl + (r - l) + padR}
      height={padT + (b - t) + gb}
      style={{ position: "absolute", left: l - gl, top: t - padT, display: "block" }}
    />
  );
}

export default function App() {
  return (
    <div style={{ position: "absolute", left: 0, top: 0, width: 1156, height: 1456, background: "#fff", overflow: "hidden" }}>
      {panels.map((p) => <PanelChart key={p.letter} panel={p} />)}
    </div>
  );
}
